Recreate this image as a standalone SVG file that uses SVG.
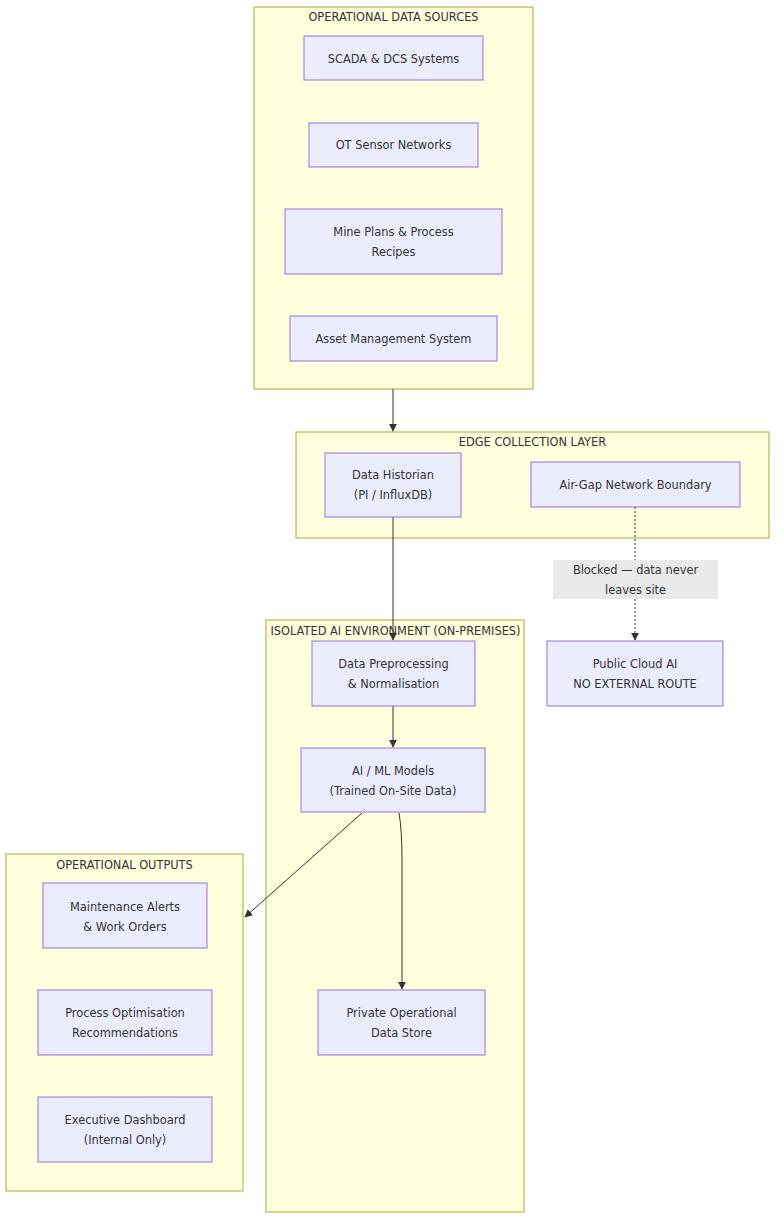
<svg xmlns="http://www.w3.org/2000/svg" width="784" height="1232" viewBox="0 0 784 1232">
<defs>
<style>
.cl{fill:#ffffde;stroke:#aaaa33;stroke-width:1}
.nd{fill:#ececff;stroke:#9370db;stroke-width:1}
text{font-family:"Trebuchet MS","DejaVu Sans",Verdana,sans-serif;font-size:11.4px;fill:#333;text-anchor:middle}
.e{fill:none;stroke:#333;stroke-width:1}
.d{fill:none;stroke:#333;stroke-width:1;stroke-dasharray:2 2}
</style>
<marker id="ah" viewBox="0 0 10 10" refX="9" refY="5" markerWidth="8" markerHeight="8" orient="auto-start-reverse"><path d="M0,0 L10,5 L0,10 z" fill="#333"/></marker>
</defs>
<rect width="784" height="1232" fill="#ffffff"/>
<g id="cluster-sources"><rect class="cl" x="254" y="7" width="279" height="382"/><text x="393.5" y="21">OPERATIONAL DATA SOURCES</text></g>
<g id="cluster-edge"><rect class="cl" x="296" y="432" width="473" height="106"/><text x="532.5" y="446">EDGE COLLECTION LAYER</text></g>
<g id="cluster-isolated"><rect class="cl" x="266" y="620" width="258" height="592"/><text x="395.5" y="635">ISOLATED AI ENVIRONMENT (ON-PREMISES)</text></g>
<g id="cluster-outputs"><rect class="cl" x="6" y="854" width="237" height="337"/><text x="124.5" y="869">OPERATIONAL OUTPUTS</text></g>

<g id="connectors">
<path class="e" d="M393,389 L393,431" marker-end="url(#ah)"/>
<path class="e" d="M393,517 L393,640" marker-end="url(#ah)"/>
<path class="d" d="M635,507 L635,640" marker-end="url(#ah)"/>
<path class="e" d="M393,706 L393,747" marker-end="url(#ah)"/>
<path class="e" d="M362,813 L245,917" marker-end="url(#ah)"/>
<path class="e" d="M399,813 Q402,830 402,860 L402,989" marker-end="url(#ah)"/>
<g id="edge-label"><rect x="553" y="560" width="165" height="39" fill="#e8e8e8" fill-opacity="0.9"/><text x="635.5" y="574">Blocked — data never</text><text x="635.5" y="594">leaves site</text></g>
</g>

<g id="n-scada"><rect class="nd" x="304" y="36" width="179" height="44"/><text x="393.5" y="63">SCADA &amp; DCS Systems</text></g>
<g id="n-ot"><rect class="nd" x="309" y="123" width="169" height="44"/><text x="393.5" y="149">OT Sensor Networks</text></g>
<g id="n-mine"><rect class="nd" x="285" y="209" width="217" height="65"/><text x="393.5" y="236">Mine Plans &amp; Process</text><text x="393.5" y="256">Recipes</text></g>
<g id="n-asset"><rect class="nd" x="290" y="316" width="207" height="45"/><text x="393.5" y="343">Asset Management System</text></g>

<g id="n-historian"><rect class="nd" x="325" y="453" width="136" height="64"/><text x="393" y="479">Data Historian</text><text x="393" y="499">(PI / InfluxDB)</text></g>
<g id="n-airgap"><rect class="nd" x="531" y="462" width="209" height="45"/><text x="635.5" y="489">Air-Gap Network Boundary</text></g>

<g id="n-cloud"><rect class="nd" x="547" y="641" width="176" height="65"/><text x="635" y="668">Public Cloud AI</text><text x="635" y="688">NO EXTERNAL ROUTE</text></g>

<g id="n-preproc"><rect class="nd" x="312" y="641" width="163" height="65"/><text x="393.5" y="668">Data Preprocessing</text><text x="393.5" y="688">&amp; Normalisation</text></g>
<g id="n-models"><rect class="nd" x="301" y="748" width="184" height="64"/><text x="393" y="775">AI / ML Models</text><text x="393" y="795">(Trained On-Site Data)</text></g>
<g id="n-store"><rect class="nd" x="318" y="990" width="167" height="65"/><text x="401.5" y="1017">Private Operational</text><text x="401.5" y="1037">Data Store</text></g>

<g id="n-maint"><rect class="nd" x="43" y="883" width="164" height="65"/><text x="125" y="911">Maintenance Alerts</text><text x="125" y="931">&amp; Work Orders</text></g>
<g id="n-process"><rect class="nd" x="38" y="990" width="174" height="65"/><text x="125" y="1017">Process Optimisation</text><text x="125" y="1037">Recommendations</text></g>
<g id="n-exec"><rect class="nd" x="38" y="1097" width="174" height="65"/><text x="125" y="1124">Executive Dashboard</text><text x="125" y="1144">(Internal Only)</text></g>
</svg>
